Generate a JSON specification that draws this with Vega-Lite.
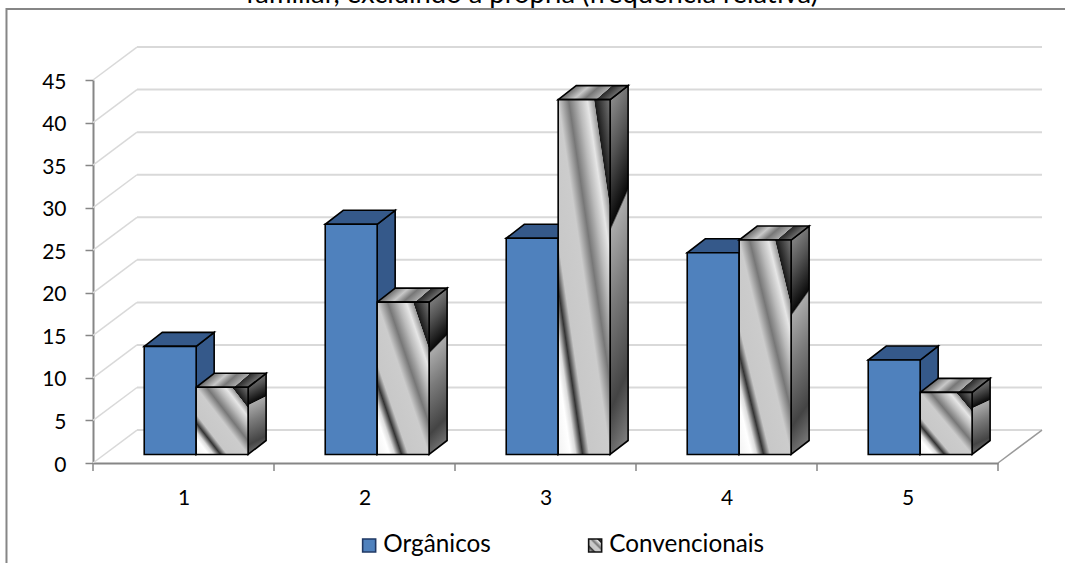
{
  "$schema": "https://vega.github.io/schema/vega-lite/v6.json",
  "width": 905,
  "height": 383,
  "autosize": "none",
  "padding": {"left": 93, "top": 80, "right": 67, "bottom": 100},
  "background": "white",
  "config": {"view": {"stroke": null}},
  "datasets": {
    "frequencias": [
      {"categoria": 1, "serie": "Orgânicos", "valor": 12.7},
      {"categoria": 1, "serie": "Convencionais", "valor": 7.9},
      {"categoria": 2, "serie": "Orgânicos", "valor": 27.05},
      {"categoria": 2, "serie": "Convencionais", "valor": 17.9},
      {"categoria": 3, "serie": "Orgânicos", "valor": 25.4},
      {"categoria": 3, "serie": "Convencionais", "valor": 41.7},
      {"categoria": 4, "serie": "Orgânicos", "valor": 23.7},
      {"categoria": 4, "serie": "Convencionais", "valor": 25.2},
      {"categoria": 5, "serie": "Orgânicos", "valor": 11.1},
      {"categoria": 5, "serie": "Convencionais", "valor": 7.3}
    ],
    "grade": [
      {"v": 0}, {"v": 5}, {"v": 10}, {"v": 15}, {"v": 20},
      {"v": 25}, {"v": 30}, {"v": 35}, {"v": 40}, {"v": 45}
    ],
    "marcas": [{"m": 0}, {"m": 1}, {"m": 2}, {"m": 3}, {"m": 4}, {"m": 5}],
    "moldura": [{"a": -0.478, "b": 5.6, "c": 53.35, "d": -20}],
    "titulo": [{"texto": "familiar, excluindo a própria (frequência relativa)", "tx": 2.425, "ty": 54.05}]
  },
  "layer": [
    {
      "description": "Chart frame",
      "data": {"name": "moldura"},
      "mark": {"type": "rect", "fillOpacity": 0, "stroke": "#868686", "strokeWidth": 2},
      "encoding": {
        "x": {"field": "a", "type": "quantitative", "title": null, "scale": {"domain": [0, 5], "nice": false, "zero": false}},
        "x2": {"field": "b"},
        "y": {"field": "c", "type": "quantitative", "title": null, "scale": {"domain": [0, 45], "nice": false}},
        "y2": {"field": "d"}
      }
    },
    {
      "description": "Last visible line of the chart heading",
      "data": {"name": "titulo"},
      "mark": {"type": "text", "font": "Lato", "fontSize": 27.4, "color": "#000000", "align": "center", "baseline": "alphabetic"},
      "encoding": {
        "x": {"field": "tx", "type": "quantitative", "title": null},
        "y": {"field": "ty", "type": "quantitative", "title": null},
        "text": {"field": "texto", "type": "nominal"}
      }
    },
    {
      "description": "Back wall gridlines",
      "data": {"name": "grade"},
      "transform": [
        {"calculate": "0.243", "as": "xa"},
        {"calculate": "5.243", "as": "xb"},
        {"calculate": "datum.v + 3.87", "as": "yb"}
      ],
      "mark": {"type": "rule", "stroke": "#D9D9D9", "strokeWidth": 2},
      "encoding": {
        "x": {"field": "xa", "type": "quantitative", "title": null},
        "x2": {"field": "xb"},
        "y": {"field": "yb", "type": "quantitative", "title": null}
      }
    },
    {
      "description": "Side wall gridlines",
      "data": {"name": "grade"},
      "transform": [
        {"calculate": "0", "as": "xa"},
        {"calculate": "0.243", "as": "xb"},
        {"calculate": "datum.v + 3.87", "as": "yb"}
      ],
      "mark": {"type": "rule", "stroke": "#D9D9D9", "strokeWidth": 1.5},
      "encoding": {
        "x": {"field": "xa", "type": "quantitative", "title": null},
        "x2": {"field": "xb"},
        "y": {"field": "v", "type": "quantitative", "title": null},
        "y2": {"field": "yb"}
      }
    },
    {
      "description": "Right edge of the floor",
      "data": {"values": [{"xa": 5, "xb": 5.243, "ya": 0, "yb": 3.87}]},
      "mark": {"type": "rule", "stroke": "#9A9A9A", "strokeWidth": 1.5},
      "encoding": {
        "x": {"field": "xa", "type": "quantitative", "title": null},
        "x2": {"field": "xb"},
        "y": {"field": "ya", "type": "quantitative", "title": null},
        "y2": {"field": "yb"}
      }
    },
    {
      "description": "Category tick marks below the floor",
      "data": {"name": "marcas"},
      "transform": [
        {"calculate": "0", "as": "ya"},
        {"calculate": "-0.95", "as": "yb"}
      ],
      "mark": {"type": "rule", "stroke": "#868686", "strokeWidth": 1.5},
      "encoding": {
        "x": {"field": "m", "type": "quantitative", "title": null},
        "y": {"field": "ya", "type": "quantitative", "title": null},
        "y2": {"field": "yb"}
      }
    },
    {
      "data": {"name": "frequencias"},
      "transform": [
        {"calculate": "datum.categoria - 1 + 0.283 + (datum.serie === 'Convencionais' ? 0.287 : 0)", "as": "x0"},
        {"calculate": "datum.x0 + 0.287", "as": "x1"},
        {"calculate": "1", "as": "y0"},
        {"calculate": "1 + datum.valor", "as": "y1"}
      ],
      "layer": [
        {
          "description": "Right faces of the blue bars",
          "transform": [
            {"filter": "datum.serie === 'Orgânicos'"},
            {"calculate": "[0, 1]", "as": "t"},
            {"flatten": ["t"]},
            {"calculate": "datum.x1 + datum.t * 0.0994", "as": "px"},
            {"calculate": "datum.y0 + datum.t * 1.643", "as": "pa"},
            {"calculate": "datum.y1 + datum.t * 1.643", "as": "pb"}
          ],
          "mark": {"type": "area", "fill": "#35598A", "stroke": "#000000", "strokeWidth": 1.6},
          "encoding": {
            "x": {"field": "px", "type": "quantitative", "title": null},
            "y": {"field": "pa", "type": "quantitative", "title": null, "stack": null},
            "y2": {"field": "pb"},
            "detail": {"field": "categoria", "type": "nominal"}
          }
        },
        {
          "description": "Top faces of the blue bars",
          "transform": [
            {"filter": "datum.serie === 'Orgânicos'"},
            {"calculate": "[0, 1]", "as": "t"},
            {"flatten": ["t"]},
            {"calculate": "datum.x0 + datum.t * 0.0994", "as": "pa"},
            {"calculate": "datum.x1 + datum.t * 0.0994", "as": "pb"},
            {"calculate": "datum.y1 + datum.t * 1.643", "as": "py"}
          ],
          "mark": {"type": "area", "orient": "horizontal", "fill": "#35598A", "stroke": "#000000", "strokeWidth": 1.6},
          "encoding": {
            "y": {"field": "py", "type": "quantitative", "title": null},
            "x": {"field": "pa", "type": "quantitative", "title": null, "stack": null},
            "x2": {"field": "pb"},
            "detail": {"field": "categoria", "type": "nominal"}
          }
        },
        {
          "description": "Right faces of the patterned bars",
          "transform": [
            {"filter": "datum.serie === 'Convencionais'"},
            {"calculate": "[0, 1]", "as": "t"},
            {"flatten": ["t"]},
            {"calculate": "datum.x1 + datum.t * 0.0994", "as": "px"},
            {"calculate": "datum.y0 + datum.t * 1.643", "as": "pa"},
            {"calculate": "datum.y1 + datum.t * 1.643", "as": "pb"}
          ],
          "mark": {
            "type": "area", "stroke": "#000000", "strokeWidth": 1.6,
            "fill": {
              "gradient": "linear", "x1": 0, "y1": 0, "x2": 0.12, "y2": 1.09,
              "stops": [
                {"offset": 0, "color": "#999999"},
                {"offset": 0.18, "color": "#555555"},
                {"offset": 0.35, "color": "#0a0a0a"},
                {"offset": 0.36, "color": "#aaaaaa"},
                {"offset": 0.55, "color": "#7a7a7a"},
                {"offset": 0.8, "color": "#444444"},
                {"offset": 1, "color": "#8a8a8a"}
              ]
            }
          },
          "encoding": {
            "x": {"field": "px", "type": "quantitative", "title": null},
            "y": {"field": "pa", "type": "quantitative", "title": null, "stack": null},
            "y2": {"field": "pb"},
            "detail": {"field": "categoria", "type": "nominal"}
          }
        },
        {
          "description": "Top faces of the patterned bars",
          "transform": [
            {"filter": "datum.serie === 'Convencionais'"},
            {"calculate": "[0, 1]", "as": "t"},
            {"flatten": ["t"]},
            {"calculate": "datum.x0 + datum.t * 0.0994", "as": "pa"},
            {"calculate": "datum.x1 + datum.t * 0.0994", "as": "pb"},
            {"calculate": "datum.y1 + datum.t * 1.643", "as": "py"}
          ],
          "mark": {
            "type": "area", "orient": "horizontal", "stroke": "#000000", "strokeWidth": 1.6,
            "fill": {
              "gradient": "linear", "x1": 0, "y1": 0, "x2": 0.95, "y2": 0.22,
              "stops": [
                {"offset": 0.2, "color": "#555555"},
                {"offset": 0.45, "color": "#c8c8c8"},
                {"offset": 0.6, "color": "#777777"},
                {"offset": 0.77, "color": "#aaaaaa"},
                {"offset": 0.78, "color": "#2a2a2a"},
                {"offset": 1, "color": "#777777"}
              ]
            }
          },
          "encoding": {
            "y": {"field": "py", "type": "quantitative", "title": null},
            "x": {"field": "pa", "type": "quantitative", "title": null, "stack": null},
            "x2": {"field": "pb"},
            "detail": {"field": "categoria", "type": "nominal"}
          }
        },
        {
          "description": "Front faces of all bars, which also carry the axes and the legend",
          "mark": {"type": "rect", "stroke": "#000000", "strokeWidth": 1.6},
          "encoding": {
            "x": {
              "field": "x0", "type": "quantitative", "title": null,
              "scale": {"domain": [0, 5], "nice": false, "zero": false},
              "axis": {
                "values": [0.5, 1.5, 2.5, 3.5, 4.5],
                "labelExpr": "datum.value + 0.5", "tickSize": 0, "grid": false,
                "labelFont": "Lato", "labelFontSize": 21, "labelColor": "#000000",
                "labelPadding": 24, "labelAngle": 0,
                "domainColor": "#868686", "domainWidth": 2
              }
            },
            "x2": {"field": "x1"},
            "y": {
              "field": "y0", "type": "quantitative", "title": null,
              "scale": {"domain": [0, 45], "nice": false},
              "axis": {
                "values": [0, 5, 10, 15, 20, 25, 30, 35, 40, 45], "grid": false,
                "labelFont": "Lato", "labelFontSize": 21, "labelColor": "#000000",
                "labelPadding": 19, "labelOffset": 2, "tickSize": 8, "tickColor": "#868686", "tickWidth": 1.5,
                "domainColor": "#868686", "domainWidth": 2
              }
            },
            "y2": {"field": "y1"},
            "fill": {
              "condition": {
                "test": "datum.serie === 'Convencionais'",
                "value": {
                  "gradient": "linear", "x1": 0, "y1": 1, "x2": 1, "y2": 0,
                  "stops": [
                    {"offset": 0, "color": "#f2f2f2"},
                    {"offset": 0.12, "color": "#ffffff"},
                    {"offset": 0.17, "color": "#dddddd"},
                    {"offset": 0.235, "color": "#333333"},
                    {"offset": 0.3, "color": "#c8c8c8"},
                    {"offset": 0.5, "color": "#cccccc"},
                    {"offset": 0.6, "color": "#777777"},
                    {"offset": 0.7, "color": "#bbbbbb"},
                    {"offset": 0.78, "color": "#e6e6e6"},
                    {"offset": 0.845, "color": "#999999"},
                    {"offset": 0.85, "color": "#1a1a1a"},
                    {"offset": 1, "color": "#777777"}
                  ]
                }
              },
              "value": "#4F81BD"
            },
            "opacity": {
              "field": "serie", "type": "ordinal",
              "scale": {"domain": ["Orgânicos", "Convencionais"], "range": [1, 1]},
              "legend": {
                "title": null, "orient": "none", "legendX": 264, "legendY": 453,
                "direction": "horizontal", "columns": 2, "columnPadding": 92,
                "symbolType": "square", "symbolSize": 169,
                "labelFont": "Lato", "labelFontSize": 24.3, "labelColor": "#000000",
                "labelOffset": 2,
                "encoding": {
                  "symbols": {
                    "fill": {"value": {"signal": "datum.value === 'Convencionais' ? {gradient: 'linear', x1: 0, y1: 1, x2: 1, y2: 0, stops: [{offset: 0, color: '#ffffff'}, {offset: 0.235, color: '#333333'}, {offset: 0.3, color: '#c8c8c8'}, {offset: 0.5, color: '#cccccc'}, {offset: 0.6, color: '#777777'}, {offset: 0.78, color: '#e6e6e6'}, {offset: 0.85, color: '#1a1a1a'}, {offset: 1, color: '#777777'}]} : '#4F81BD'"}},
                    "stroke": {"value": {"signal": "datum.value === 'Convencionais' ? '#111111' : '#1F3864'"}},
                    "strokeWidth": {"value": 1.6}
                  }
                }
              }
            }
          }
        }
      ]
    }
  ]
}
